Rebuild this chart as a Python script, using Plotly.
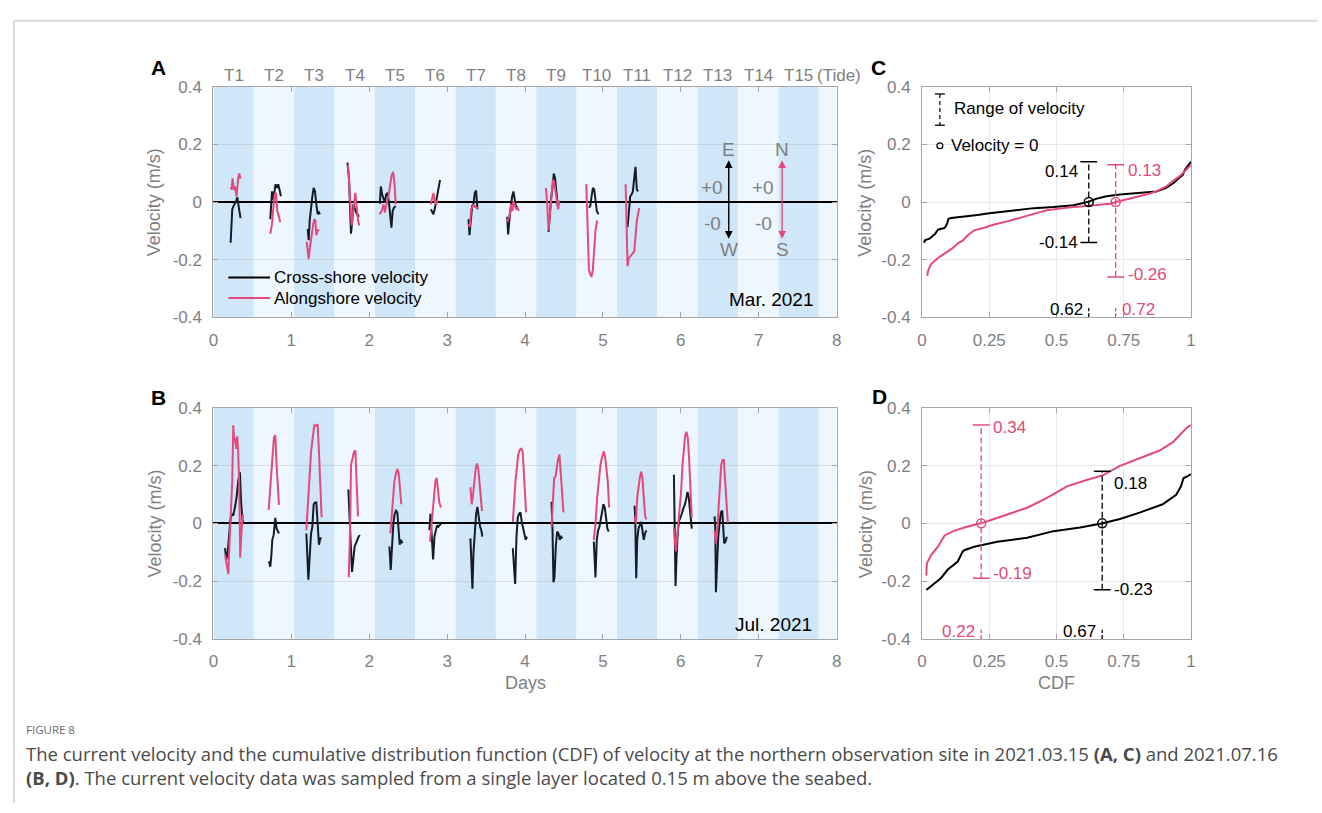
import plotly.graph_objects as go

W, H = 1322, 813
def px(x): return x / W
def py(y): return 1 - y / H

FONT = "Liberation Sans, Arial, sans-serif"
GRAY = "#7f7f7f"
BLACK = "#141c26"
PINK = "#E5487A"
DARK_BAND = "#d0e7f9"
LIGHT_BAND = "#eef7fd"

# ---------------- data ----------------
tide_labels = ["T1", "T2", "T3", "T4", "T5", "T6", "T7", "T8", "T9", "T10",
               "T11", "T12", "T13", "T14", "T15"]
tide_period_days = 0.518
series_names = ["Cross-shore velocity", "Alongshore velocity"]

mar_cross_day = [
    [0.221, 0.234, 0.242, 0.268, 0.289, 0.306, 0.318, 0.331, 0.348],
    [0.730, 0.752, 0.769, 0.786, 0.798, 0.815, 0.832, 0.849, 0.866],
    [1.210, 1.223, 1.236, 1.253, 1.270, 1.287, 1.304, 1.321, 1.338, 1.355, 1.367],
    [1.720, 1.741, 1.754, 1.766, 1.783, 1.796, 1.813, 1.830, 1.847, 1.868],
    [2.136, 2.149, 2.166, 2.183, 2.200, 2.217, 2.234, 2.251, 2.268, 2.285, 2.301, 2.318, 2.340],
    [2.790, 2.807, 2.824, 2.845, 2.866, 2.887, 2.909],
    [3.274, 3.287, 3.304, 3.321, 3.338, 3.355, 3.372, 3.389],
    [3.771, 3.783, 3.800, 3.817, 3.834, 3.851, 3.868, 3.885, 3.902],
    [4.302, 4.318, 4.335, 4.352, 4.369, 4.386, 4.403, 4.420, 4.437],
    [4.820, 4.837, 4.854, 4.871, 4.888, 4.904, 4.921, 4.943],
    [5.316, 5.333, 5.350, 5.367, 5.384, 5.401, 5.418, 5.435, 5.452],
]
mar_cross_vel = [
    [-0.141, -0.076, -0.025, -0.008, 0.0, 0.017, -0.002, -0.031, -0.056],
    [-0.059, 0.037, 0.009, 0.043, 0.062, 0.049, 0.062, 0.043, 0.020],
    [-0.093, -0.132, -0.064, -0.014, 0.020, 0.049, 0.037, -0.008, -0.042, -0.036, -0.042],
    [0.137, 0.082, -0.019, -0.110, -0.064, -0.008, -0.019, -0.036, -0.042, -0.051],
    [-0.006, 0.054, 0.026, 0.009, -0.002, 0.026, 0.032, 0.003, -0.042, -0.089, -0.031, -0.019, -0.014],
    [-0.025, -0.033, -0.042, -0.019, 0.015, 0.049, 0.077],
    [-0.059, -0.115, -0.064, -0.014, -0.008, 0.032, 0.040, -0.025],
    [-0.051, -0.112, -0.059, -0.014, 0.020, 0.037, 0.009, -0.019, -0.014],
    [-0.104, -0.031, 0.015, 0.049, 0.099, 0.082, 0.026, -0.014, 0.003],
    [-0.019, -0.014, 0.020, 0.049, 0.043, 0.009, -0.031, -0.042],
    [-0.087, -0.031, 0.020, 0.026, 0.037, 0.082, 0.122, 0.043, 0.037],
]
mar_along_day = [
    [0.221, 0.234, 0.246, 0.263, 0.276, 0.297, 0.318, 0.331, 0.348],
    [0.730, 0.752, 0.769, 0.786, 0.803, 0.820, 0.837, 0.858],
    [1.197, 1.210, 1.223, 1.240, 1.261, 1.282, 1.295, 1.308, 1.321, 1.338, 1.359],
    [1.728, 1.745, 1.762, 1.775, 1.792, 1.805, 1.822, 1.839, 1.856, 1.873],
    [2.132, 2.149, 2.166, 2.183, 2.200, 2.217, 2.234, 2.251, 2.268, 2.285, 2.306, 2.323, 2.340],
    [2.790, 2.807, 2.824, 2.841, 2.858, 2.875],
    [3.274, 3.291, 3.308, 3.325, 3.342, 3.359, 3.376, 3.397],
    [3.771, 3.788, 3.805, 3.822, 3.839, 3.851, 3.868, 3.885, 3.902, 3.919],
    [4.268, 4.285, 4.302, 4.323, 4.340, 4.357, 4.374, 4.391, 4.408, 4.425, 4.442],
    [4.786, 4.803, 4.820, 4.837, 4.854, 4.871, 4.888, 4.904, 4.926],
    [5.291, 5.304, 5.316, 5.333, 5.350, 5.376, 5.401, 5.418, 5.435, 5.465],
]
mar_along_vel = [
    [0.051, 0.043, 0.082, 0.043, 0.054, 0.020, 0.082, 0.099, 0.082],
    [-0.110, -0.076, -0.019, 0.026, 0.032, -0.031, -0.047, -0.070],
    [-0.138, -0.166, -0.198, -0.155, -0.110, -0.076, -0.059, -0.064, -0.115, -0.098, -0.098],
    [0.130, 0.060, -0.031, -0.081, -0.036, 0.003, 0.032, -0.019, -0.064, -0.081],
    [-0.042, -0.036, -0.025, -0.008, -0.036, -0.008, 0.009, 0.026, 0.054, 0.088, 0.105, 0.071, -0.008],
    [-0.008, 0.012, 0.032, 0.003, -0.008, 0.006],
    [-0.076, -0.087, -0.025, -0.014, -0.008, -0.017, -0.019, -0.021],
    [-0.070, -0.053, -0.042, -0.008, -0.031, 0.003, -0.008, -0.025, -0.019, -0.031],
    [0.049, -0.008, -0.098, -0.036, 0.020, 0.077, 0.071, 0.037, -0.008, -0.025, 0.006],
    [0.062, -0.076, -0.234, -0.251, -0.259, -0.234, -0.166, -0.098, -0.064],
    [0.062, -0.076, -0.223, -0.194, -0.189, -0.181, -0.172, -0.121, -0.064, -0.021],
]

jul_cross_day = [
    [0.149, 0.166, 0.183, 0.200, 0.217, 0.234, 0.255, 0.276, 0.297, 0.318, 0.340, 0.357, 0.374, 0.386],
    [0.713, 0.730, 0.743, 0.756, 0.773, 0.794, 0.811, 0.824, 0.841],
    [1.193, 1.206, 1.219, 1.236, 1.253, 1.270, 1.287, 1.304, 1.321, 1.338, 1.355, 1.372, 1.389],
    [1.732, 1.749, 1.766, 1.779, 1.796, 1.813, 1.830, 1.847, 1.864, 1.881],
    [2.259, 2.276, 2.293, 2.310, 2.327, 2.344, 2.361, 2.378, 2.391, 2.408, 2.425],
    [2.773, 2.786, 2.803, 2.820, 2.837, 2.854, 2.870, 2.887, 2.904, 2.921],
    [3.299, 3.312, 3.325, 3.338, 3.355, 3.372, 3.389, 3.406, 3.423, 3.439, 3.452],
    [3.843, 3.860, 3.873, 3.890, 3.907, 3.924, 3.941, 3.958, 3.975, 3.992, 4.008, 4.025],
    [4.340, 4.352, 4.365, 4.378, 4.395, 4.412, 4.429, 4.446, 4.463, 4.480],
    [4.883, 4.904, 4.921, 4.938, 4.955, 4.972, 4.989, 5.006, 5.023, 5.040, 5.057, 5.074],
    [5.406, 5.414, 5.427, 5.440, 5.456, 5.473, 5.490, 5.507, 5.524, 5.541, 5.558],
    [5.911, 5.924, 5.932, 5.945, 5.962, 5.979, 5.996, 6.013, 6.030, 6.047, 6.068, 6.085, 6.102, 6.119, 6.140],
    [6.433, 6.442, 6.450, 6.463, 6.480, 6.497, 6.514, 6.531, 6.543, 6.556, 6.573, 6.590],
]
jul_cross_vel = [
    [-0.086, -0.125, -0.103, -0.046, 0.010, 0.033, 0.027, 0.055, 0.089, 0.145, 0.177, 0.066, 0.010, 0.005],
    [-0.131, -0.150, -0.114, -0.057, -0.041, 0.019, -0.018, -0.029, -0.035],
    [-0.035, -0.136, -0.195, -0.114, -0.035, -0.012, 0.066, 0.072, 0.072, -0.001, -0.074, -0.052, -0.052],
    [0.117, -0.012, -0.091, -0.168, -0.125, -0.080, -0.069, -0.057, -0.046, -0.041],
    [-0.080, -0.161, -0.080, -0.001, 0.033, 0.044, 0.038, -0.024, -0.074, -0.057, -0.069],
    [-0.024, 0.033, -0.046, -0.125, -0.046, -0.024, -0.007, -0.012, -0.007, -0.001],
    [-0.052, -0.148, -0.226, -0.103, -0.024, 0.033, 0.057, 0.010, -0.012, -0.024, -0.046],
    [-0.086, -0.148, -0.210, -0.046, 0.021, 0.033, 0.038, 0.005, -0.018, -0.041, -0.057, -0.046],
    [0.075, -0.018, -0.204, -0.187, -0.080, -0.029, -0.035, -0.057, -0.046, -0.052],
    [-0.063, -0.187, -0.057, -0.024, -0.012, 0.016, 0.050, 0.066, 0.055, 0.010, -0.018, -0.029],
    [0.061, 0.021, -0.190, -0.057, -0.018, -0.007, 0.005, -0.024, -0.057, -0.035, -0.024],
    [0.168, -0.024, -0.217, -0.114, -0.024, 0.010, 0.021, 0.033, 0.050, 0.061, 0.083, 0.109, 0.089, 0.033, -0.018],
    [0.024, -0.018, -0.238, -0.136, -0.046, -0.001, 0.038, 0.044, -0.018, -0.069, -0.063, -0.046],
]
jul_along_day = [
    [0.149, 0.170, 0.191, 0.208, 0.225, 0.242, 0.255, 0.268, 0.280, 0.293, 0.306, 0.318, 0.331, 0.344, 0.361, 0.378],
    [0.709, 0.726, 0.743, 0.760, 0.777, 0.794, 0.811, 0.828, 0.841],
    [1.193, 1.210, 1.231, 1.253, 1.278, 1.295, 1.316, 1.338, 1.355, 1.372, 1.389],
    [1.737, 1.754, 1.766, 1.788, 1.805, 1.822, 1.839, 1.856],
    [2.272, 2.289, 2.306, 2.323, 2.344, 2.361, 2.378, 2.395, 2.412],
    [2.781, 2.798, 2.815, 2.832, 2.849, 2.866, 2.883, 2.900, 2.921],
    [3.299, 3.316, 3.333, 3.350, 3.367, 3.384, 3.401, 3.418, 3.435, 3.448],
    [3.843, 3.860, 3.877, 3.894, 3.911, 3.928, 3.949, 3.970, 3.992, 4.013],
    [4.340, 4.357, 4.374, 4.391, 4.408, 4.425, 4.442, 4.459, 4.476, 4.493],
    [4.883, 4.904, 4.926, 4.951, 4.968, 4.989, 5.011, 5.028, 5.045, 5.062, 5.079],
    [5.406, 5.423, 5.440, 5.456, 5.473, 5.490, 5.507, 5.524, 5.541, 5.558],
    [5.911, 5.924, 5.936, 5.953, 5.970, 5.987, 6.004, 6.021, 6.038, 6.055, 6.072, 6.089, 6.106, 6.123, 6.140],
    [6.433, 6.450, 6.467, 6.484, 6.501, 6.518, 6.535, 6.552, 6.569, 6.586, 6.603],
]
jul_along_vel = [
    [-0.108, -0.136, -0.176, -0.057, 0.033, 0.145, 0.339, 0.281, 0.294, 0.258, 0.301, 0.247, 0.134, -0.119, -0.024, 0.033],
    [0.047, 0.100, 0.168, 0.235, 0.297, 0.305, 0.202, 0.112, 0.064],
    [-0.024, 0.055, 0.157, 0.247, 0.303, 0.339, 0.337, 0.343, 0.247, 0.134, 0.021],
    [-0.187, -0.024, 0.202, 0.224, 0.247, 0.252, 0.134, 0.024],
    [-0.035, 0.033, 0.100, 0.145, 0.174, 0.188, 0.174, 0.112, 0.066],
    [-0.063, -0.012, 0.044, 0.100, 0.145, 0.157, 0.112, 0.072, 0.055],
    [0.125, 0.066, 0.100, 0.157, 0.190, 0.207, 0.185, 0.134, 0.089, 0.042],
    [0.005, 0.089, 0.145, 0.190, 0.235, 0.252, 0.260, 0.247, 0.145, 0.038],
    [-0.012, 0.066, 0.157, 0.162, 0.202, 0.224, 0.238, 0.168, 0.100, 0.038],
    [-0.057, -0.001, 0.089, 0.168, 0.202, 0.230, 0.249, 0.230, 0.190, 0.145, 0.055],
    [0.021, -0.001, 0.089, 0.134, 0.157, 0.179, 0.157, 0.089, 0.027, 0.014],
    [-0.018, -0.057, -0.097, -0.046, -0.001, 0.055, 0.112, 0.202, 0.269, 0.303, 0.317, 0.297, 0.224, 0.134, 0.021],
    [-0.024, -0.069, -0.024, 0.055, 0.145, 0.202, 0.219, 0.219, 0.145, 0.066, 0.001],
]

# CDF curves
mar_cdf_cross_p = [0.007, 0.012, 0.028, 0.041, 0.049, 0.059, 0.071, 0.084, 0.093, 0.098, 0.108, 0.133,
                   0.170, 0.207, 0.243, 0.280, 0.342, 0.416, 0.489, 0.563, 0.588, 0.615, 0.650, 0.686,
                   0.736, 0.809, 0.871, 0.908, 0.939, 0.957, 0.969, 0.979, 0.984, 0.992, 1.0]
mar_cdf_cross_v = [-0.141, -0.132, -0.127, -0.115, -0.110, -0.096, -0.093, -0.090, -0.076, -0.059, -0.055,
                   -0.053, -0.050, -0.045, -0.040, -0.036, -0.031, -0.021, -0.017, -0.011, -0.006, 0.0,
                   0.012, 0.020, 0.026, 0.033, 0.037, 0.049, 0.069, 0.085, 0.094, 0.114, 0.122, 0.130, 0.140]
mar_cdf_along_p = [0.020, 0.022, 0.032, 0.044, 0.059, 0.077, 0.096, 0.114, 0.133, 0.151, 0.170, 0.194,
                   0.231, 0.268, 0.317, 0.367, 0.416, 0.465, 0.526, 0.588, 0.650, 0.699, 0.721, 0.760,
                   0.797, 0.834, 0.871, 0.908, 0.939, 0.963, 0.984, 1.0]
mar_cdf_along_v = [-0.256, -0.240, -0.217, -0.206, -0.194, -0.183, -0.172, -0.160, -0.143, -0.134, -0.115,
                   -0.098, -0.089, -0.078, -0.067, -0.053, -0.040, -0.028, -0.021, -0.016, -0.010, -0.006,
                   0.0, 0.009, 0.017, 0.026, 0.037, 0.054, 0.077, 0.094, 0.114, 0.130]
jul_cdf_cross_p = [0.016, 0.041, 0.071, 0.096, 0.133, 0.151, 0.157, 0.194, 0.280, 0.391, 0.489, 0.588,
                   0.672, 0.736, 0.809, 0.895, 0.945, 0.963, 0.972, 0.984, 1.0]
jul_cdf_cross_v = [-0.231, -0.211, -0.189, -0.160, -0.132, -0.098, -0.093, -0.081, -0.064, -0.050, -0.027,
                   -0.014, 0.0, 0.015, 0.037, 0.066, 0.099, 0.128, 0.156, 0.162, 0.170]
jul_cdf_along_p = [0.016, 0.018, 0.034, 0.059, 0.084, 0.121, 0.170, 0.219, 0.268, 0.342, 0.391, 0.465,
                   0.539, 0.612, 0.674, 0.736, 0.809, 0.883, 0.932, 0.969, 0.984, 1.0]
jul_cdf_along_v = [-0.181, -0.138, -0.110, -0.081, -0.042, -0.025, -0.011, 0.0, 0.015, 0.037, 0.054, 0.088,
                   0.128, 0.150, 0.167, 0.199, 0.224, 0.252, 0.280, 0.314, 0.331, 0.340]

# zero-crossing CDF and velocity range  [cross-shore, alongshore]
mar_zero_cdf = [0.62, 0.72]
mar_range_hi = [0.14, 0.13]
mar_range_lo = [-0.14, -0.26]
jul_zero_cdf = [0.67, 0.22]
jul_range_hi = [0.18, 0.34]
jul_range_lo = [-0.23, -0.19]


def join_segments(days, vels):
    xs, ys = [], []
    for d, v in zip(days, vels):
        xs += d + [None]
        ys += v + [None]
    return xs, ys


fig = go.Figure()

# --- time series panels (cross-shore first, alongshore on top)
for (cd, cv, ad, av, xa, ya) in [
        (mar_cross_day, mar_cross_vel, mar_along_day, mar_along_vel, "x", "y"),
        (jul_cross_day, jul_cross_vel, jul_along_day, jul_along_vel, "x2", "y2")]:
    x, y = join_segments(cd, cv)
    fig.add_trace(go.Scatter(x=x, y=y, mode="lines", line=dict(color=BLACK, width=2),
                             name=series_names[0], showlegend=False, xaxis=xa, yaxis=ya))
    x, y = join_segments(ad, av)
    fig.add_trace(go.Scatter(x=x, y=y, mode="lines", line=dict(color=PINK, width=2),
                             name=series_names[1], showlegend=False, xaxis=xa, yaxis=ya))

annotations = []
def ann(**kw):
    d = dict(showarrow=False, xanchor="center", yanchor="middle")
    d.update(kw)
    annotations.append(d)

# --- CDF panels
for (cp, cv, ap, av, zc, hi, lo, xa, ya, styles) in [
        (mar_cdf_cross_p, mar_cdf_cross_v, mar_cdf_along_p, mar_cdf_along_v,
         mar_zero_cdf, mar_range_hi, mar_range_lo, "x3", "y3",
         [dict(side="left", tshift=-10, bshift=0, bottom="left"),
          dict(side="right", tshift=-6, bshift=2, bottom="right")]),
        (jul_cdf_cross_p, jul_cdf_cross_v, jul_cdf_along_p, jul_cdf_along_v,
         jul_zero_cdf, jul_range_hi, jul_range_lo, "x4", "y4",
         [dict(side="right", tshift=-12, bshift=0, bottom="left"),
          dict(side="right", tshift=-2, bshift=5, bottom="left")])]:
    fig.add_trace(go.Scatter(x=cp, y=cv, mode="lines", line=dict(color="#000000", width=2),
                             name="CDF " + series_names[0], showlegend=False, xaxis=xa, yaxis=ya))
    fig.add_trace(go.Scatter(x=ap, y=av, mode="lines", line=dict(color=PINK, width=2),
                             name="CDF " + series_names[1], showlegend=False, xaxis=xa, yaxis=ya))
    for i, col in enumerate(["#000000", PINK]):
        c = zc[i]
        st = styles[i]
        fig.add_trace(go.Scatter(x=[c, c], y=[lo[i], hi[i]], mode="lines",
                                 line=dict(color=col, width=1.3, dash="6px,3px"),
                                 showlegend=False, xaxis=xa, yaxis=ya))
        fig.add_trace(go.Scatter(x=[c, c], y=[lo[i], hi[i]], mode="markers",
                                 marker=dict(symbol="line-ew", size=12, line=dict(color=col, width=1.5)),
                                 showlegend=False, xaxis=xa, yaxis=ya))
        fig.add_trace(go.Scatter(x=[c], y=[0], mode="markers",
                                 marker=dict(symbol="circle-open", size=9, color=col,
                                             line=dict(color=col, width=1.5)),
                                 showlegend=False, xaxis=xa, yaxis=ya))
        fig.add_trace(go.Scatter(x=[c, c], y=[-0.4, -0.368], mode="lines",
                                 line=dict(color=col, width=1.3, dash="4px,2px"),
                                 showlegend=False, xaxis=xa, yaxis=ya))
        if st["side"] == "left":
            xanc, xsh = "right", -9
        else:
            xanc, xsh = "left", 10
        ann(x=c, y=hi[i], xref=xa, yref=ya, text="%.2f" % hi[i], xanchor=xanc, xshift=xsh,
            yshift=st["tshift"], font=dict(size=17, color=col, family=FONT))
        ann(x=c, y=lo[i], xref=xa, yref=ya, text="%.2f" % lo[i], xanchor=xanc, xshift=xsh,
            yshift=st["bshift"], font=dict(size=17, color=col, family=FONT))
        if st["bottom"] == "left":
            bxa, bxs = "right", -4
        else:
            bxa, bxs = "left", 4
        ann(x=c, y=-0.373, xref=xa, yref=ya, text="%.2f" % c, xanchor=bxa, xshift=bxs,
            font=dict(size=17, color=col, family=FONT))

# ---------------- axes ----------------
ytick_vals = [-0.4, -0.2, 0, 0.2, 0.4]
ytick_text = ["-0.4", "-0.2", "0", "0.2", "0.4"]
tickfont = dict(size=17, color=GRAY, family=FONT)
common = dict(showline=True, linecolor="#a6a6a6", linewidth=1, mirror="ticks",
              ticks="inside", ticklen=5, tickcolor="#a6a6a6", tickfont=tickfont)

xA = [px(210), px(838)]
xC = [px(924), px(1195)]
yA = [py(315.7), py(79.7)]
yB = [py(645), py(408.3)]

ts_x = dict(range=[0, 8], tickvals=list(range(9)), showgrid=False, zeroline=False,
            ticklabelstandoff=7, **common)
ts_y = dict(range=[-0.4, 0.4], tickvals=ytick_vals, ticktext=ytick_text, showgrid=True,
            gridcolor="rgba(175,175,175,0.35)", zeroline=True, zerolinecolor="#000000",
            zerolinewidth=1.5, ticklabelstandoff=7, **common)
cdf_x = dict(range=[0, 1], tickvals=[0, 0.25, 0.5, 0.75, 1], ticktext=["0", "0.25", "0.5", "0.75", "1"],
             showgrid=True, gridcolor="#e8e8e8", zeroline=False, ticklabelstandoff=7, **common)
cdf_y = dict(range=[-0.4, 0.4], tickvals=ytick_vals, ticktext=ytick_text, showgrid=True,
             gridcolor="#e8e8e8", zeroline=False, ticklabelstandoff=7, **common)

fig.update_layout(
    width=W, height=H, margin=dict(l=0, r=0, t=0, b=0),
    paper_bgcolor="white", plot_bgcolor="white",
    font=dict(family=FONT, color="#000000"), showlegend=False,
    xaxis=dict(domain=xA, anchor="y", **ts_x),
    yaxis=dict(domain=yA, anchor="x", **ts_y),
    xaxis2=dict(domain=xA, anchor="y2", **ts_x),
    yaxis2=dict(domain=yB, anchor="x2", **ts_y),
    xaxis3=dict(domain=xC, anchor="y3", **cdf_x),
    yaxis3=dict(domain=yA, anchor="x3", **cdf_y),
    xaxis4=dict(domain=xC, anchor="y4", **cdf_x),
    yaxis4=dict(domain=yB, anchor="x4", **cdf_y),
)

# ---------------- shapes ----------------
shapes = []
n_bands = 16
for i in range(n_bands):
    x0 = i * tide_period_days
    x1 = min((i + 1) * tide_period_days, 8)
    for xa, ya in [("x", "y"), ("x2", "y2")]:
        shapes.append(dict(type="rect", xref=xa, yref=ya + " domain", x0=x0, x1=x1, y0=0, y1=1,
                           fillcolor=DARK_BAND if i % 2 == 0 else LIGHT_BAND,
                           line=dict(width=0), layer="below"))

# figure frame
shapes.append(dict(type="line", xref="paper", yref="paper", x0=px(9), x1=1, y0=py(12), y1=py(12),
                   line=dict(color="#d9d9d9", width=2)))
shapes.append(dict(type="line", xref="paper", yref="paper", x0=px(9), x1=px(9), y0=py(12), y1=0,
                   line=dict(color="#d9d9d9", width=2)))

# legend of panel A
for yy, col in [(275, "#000000"), (296, PINK)]:
    shapes.append(dict(type="line", xref="paper", yref="paper", x0=px(225), x1=px(267),
                       y0=py(yy), y1=py(yy), line=dict(color=col, width=2)))

# legend icons in panel C
lx = 942
shapes.append(dict(type="line", xref="paper", yref="paper", x0=px(lx), x1=px(lx), y0=py(87), y1=py(119),
                   line=dict(color="#000000", width=1.2, dash="4px,3px")))
for yy in (87, 119):
    shapes.append(dict(type="line", xref="paper", yref="paper", x0=px(lx - 5), x1=px(lx + 5),
                       y0=py(yy), y1=py(yy), line=dict(color="#000000", width=1.3)))
shapes.append(dict(type="circle", xref="paper", yref="paper", x0=px(lx - 3), x1=px(lx + 3),
                   y0=py(143), y1=py(137), line=dict(color="#000000", width=1.2)))
fig.update_layout(shapes=shapes)

# ---------------- text annotations ----------------
for i, lab in enumerate(tide_labels):
    ann(x=(i + 0.5) * tide_period_days, y=py(68), xref="x", yref="paper", text=lab,
        font=dict(size=17, color=GRAY, family=FONT))
ann(x=px(816), y=py(68), xref="paper", yref="paper", text="(Tide)", xanchor="left",
    font=dict(size=17, color=GRAY, family=FONT))

for lab, x, y in [("A", 155, 60), ("B", 155, 398), ("C", 880, 60), ("D", 881, 397)]:
    ann(x=px(x), y=py(y), xref="paper", yref="paper", text="<b>%s</b>" % lab,
        font=dict(size=21, color="#000000", family=FONT))

for x, y in [(151, 198), (151, 527), (867, 198), (867, 527)]:
    ann(x=px(x), y=py(y), xref="paper", yref="paper", text="Velocity (m/s)", textangle=-90,
        font=dict(size=18, color=GRAY, family=FONT))
ann(x=px(524), y=py(690), xref="paper", yref="paper", text="Days",
    font=dict(size=18, color=GRAY, family=FONT))
ann(x=px(1060), y=py(690), xref="paper", yref="paper", text="CDF",
    font=dict(size=18, color=GRAY, family=FONT))

ann(x=px(817), y=py(297), xref="paper", yref="paper", text="Mar. 2021", xanchor="right",
    font=dict(size=19, color="#000000", family=FONT))
ann(x=px(815), y=py(630), xref="paper", yref="paper", text="Jul. 2021", xanchor="right",
    font=dict(size=19, color="#000000", family=FONT))

# legend texts of panel A
ann(x=px(269), y=py(275), xref="paper", yref="paper", text=series_names[0], xanchor="left",
    font=dict(size=17, color="#000000", family=FONT))
ann(x=px(269), y=py(296), xref="paper", yref="paper", text=series_names[1], xanchor="left",
    font=dict(size=17, color="#000000", family=FONT))

# direction arrows in panel A
for xc, col, top, bot, xt in [(6.615, "#000000", "E", "W", 6.40), (7.30, PINK, "N", "S", 7.06)]:
    annotations.append(dict(x=xc, y=-0.127, ax=xc, ay=0.15, xref="x", yref="y", axref="x", ayref="y",
                            text="", showarrow=True, arrowhead=2, arrowside="end+start",
                            arrowsize=1.1, arrowwidth=1.4, arrowcolor=col))
    ann(x=xc, y=0.184, xref="x", yref="y", text=top, font=dict(size=19, color=GRAY, family=FONT))
    ann(x=xc, y=-0.166, xref="x", yref="y", text=bot, font=dict(size=19, color=GRAY, family=FONT))
    ann(x=xt, y=0.049, xref="x", yref="y", text="+0", font=dict(size=19, color=GRAY, family=FONT))
    ann(x=xt, y=-0.073, xref="x", yref="y", text="-0", font=dict(size=19, color=GRAY, family=FONT))

# legend texts in panel C
ann(x=px(954), y=py(102), xref="paper", yref="paper", text="Range of velocity", xanchor="left",
    font=dict(size=17, color="#000000", family=FONT))
ann(x=px(951), y=py(140), xref="paper", yref="paper", text="Velocity = 0", xanchor="left",
    font=dict(size=17, color="#000000", family=FONT))

# caption
CAP = "Open Sans, Noto Sans, sans-serif"
ann(x=px(19), y=py(738), xref="paper", yref="paper", text="FIGURE 8", xanchor="left",
    font=dict(size=11.5, color="#6b6b6b", family=CAP))
ann(x=px(19), y=py(762), xref="paper", yref="paper",
    text="The current velocity and the cumulative distribution function (CDF) of velocity at the "
         "northern observation site in 2021.03.15 <b>(A, C)</b> and 2021.07.16",
    xanchor="left", font=dict(size=18.5, color="#4a4a4a", family=CAP))
ann(x=px(19), y=py(787), xref="paper", yref="paper",
    text="<b>(B, D)</b>. The current velocity data was sampled from a single layer located "
         "0.15 m above the seabed.",
    xanchor="left", font=dict(size=18.5, color="#4a4a4a", family=CAP))

fig.update_layout(annotations=annotations)
fig.write_html("out.html")
